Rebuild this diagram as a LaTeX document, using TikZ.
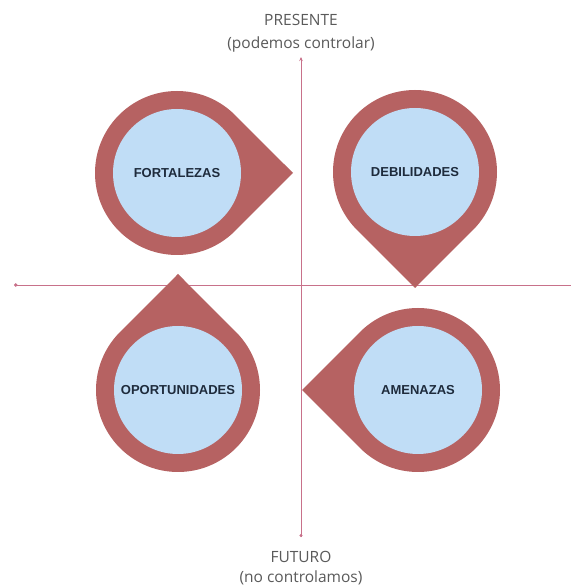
\documentclass[tikz,border=0pt]{standalone}
\usepackage{fontspec}
\setmainfont{Liberation Sans}
\newfontfamily\axisfont{Open Sans}
\usetikzlibrary{calc,arrows.meta}
\definecolor{ring}{HTML}{B66262}
\definecolor{inner}{HTML}{C0DDF6}
\definecolor{axis}{HTML}{C8718A}
\definecolor{labeltext}{HTML}{1E2B3C}
\definecolor{axistext}{HTML}{5A5A5A}
\tikzset{
  drop/.style={fill=ring, draw=none},
  core/.style={circle, fill=inner, draw=none, minimum size=128pt, inner sep=0pt,
    font=\fontsize{13}{15}\selectfont\bfseries, text=labeltext},
  axisline/.style={draw=axis, line width=0.9pt},
  axislabel/.style={font=\axisfont\fontsize{15.5}{18}\selectfont, text=axistext, align=center}
}
\newcommand{\teardrop}[2]{% center, direction
  \fill[drop] ($(#1)+(#2:116)$) -- ($(#1)+(#2+45:82)$)
    arc[start angle=#2+45, end angle=#2+315, radius=82pt] -- cycle;
}
\begin{document}
\begin{tikzpicture}[x=1pt,y=1pt]
\useasboundingbox (0,0) rectangle (571,587);
\fill[white] (0,0) rectangle (571,587);
% axes
\coordinate (vtop) at (301,530);
\coordinate (vbot) at (301,50);
\coordinate (hleft) at (14,302);
\coordinate (hright) at (571,302);
\draw[axisline, -{Stealth[length=4pt,width=3.5pt]}] (vbot) -- (vtop);
\draw[axisline, {Circle[length=3pt]}-] (vbot) -- ($(vbot)+(0,1)$);
\draw[axisline, {Circle[length=3.5pt]}-] (hleft) -- (hright);
% centers
\coordinate (cF) at (177,414);
\coordinate (cD) at (415,415);
\coordinate (cO) at (178,197);
\coordinate (cA) at (418,197);
\teardrop{cF}{0}
\teardrop{cD}{-90}
\teardrop{cO}{90}
\teardrop{cA}{180}
\node[core] (fort) at (cF) {FORTALEZAS};
\node[core] (deb) at (cD) {DEBILIDADES};
\node[core] (opor) at (cO) {OPORTUNIDADES};
\node[core] (amen) at (cA) {AMENAZAS};
% axis labels
\node[axislabel] (pres) at (301,567) {PRESENTE};
\node[axislabel] (presb) at (301,543) {(podemos controlar)};
\node[axislabel] (fut) at (301,30) {FUTURO};
\node[axislabel] (futb) at (301,9) {(no controlamos)};
\end{tikzpicture}
\end{document}
